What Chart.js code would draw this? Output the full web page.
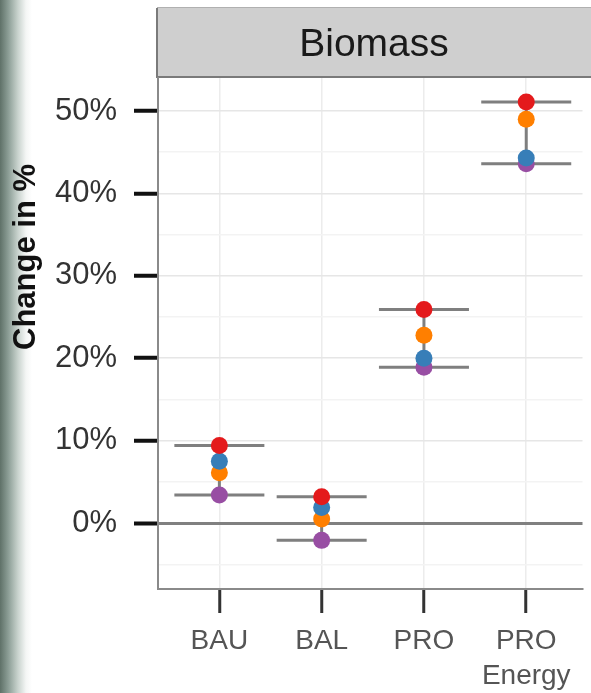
<!DOCTYPE html>
<html>
<head>
<meta charset="utf-8">
<script src="https://cdn.jsdelivr.net/npm/chart.js@4"></script>
<style>
  html, body { margin: 0; padding: 0; }
  body {
    width: 591px;
    height: 693px;
    overflow: hidden;
    background: linear-gradient(to right, #5f7168 0px, #8a9c94 8px, #c9d3ce 18px, #f4f6f5 26px, #ffffff 32px);
  }
  canvas { display: block; }
</style>
</head>
<body>
<canvas id="chart" width="591" height="693"></canvas>
<script>
const categories = ["BAU", "BAL", "PRO", "PRO Energy"];
const redValues = [9.4, 3.2, 25.9, 51.1];
const blueValues = [7.5, 1.9, 20.0, 44.3];
const orangeValues = [6.1, 0.5, 22.8, 49.0];
const purpleValues = [3.4, -2.1, 18.9, 43.6];
const yTicks = [-5, 0, 5, 10, 15, 20, 25, 30, 35, 40, 45, 50];
const panelTitle = "Biomass";
const yTitle = "Change in %";

const series = [
  { label: "red", values: redValues, color: "#E41A1C" },
  { label: "blue", values: blueValues, color: "#377EB8" },
  { label: "orange", values: orangeValues, color: "#FF7F00" },
  { label: "purple", values: purpleValues, color: "#984EA3" },
];

// range bars: caps at highest and lowest value, joined by a vertical line
const capHalf = 0.44;
const rangePoints = [];
categories.forEach((cat, i) => {
  const vals = series.map((s) => s.values[i]);
  const hi = Math.max(...vals);
  const lo = Math.min(...vals);
  rangePoints.push({ x: i - capHalf, y: hi }, { x: i + capHalf, y: hi }, { x: i, y: null });
  rangePoints.push({ x: i - capHalf, y: lo }, { x: i + capHalf, y: lo }, { x: i, y: null });
  rangePoints.push({ x: i, y: lo }, { x: i, y: hi }, { x: i, y: null });
});

Chart.defaults.font.family = "'Liberation Sans', Arial, sans-serif";

const stripPlugin = {
  id: "strip",
  beforeDraw(chart) {
    const { ctx, chartArea, width } = chart;
    ctx.save();
    ctx.fillStyle = "#cfcfcf";
    ctx.fillRect(chartArea.left - 1, 8, width - chartArea.left + 1, 70);
    ctx.strokeStyle = "#b0b0b0";
    ctx.lineWidth = 1;
    ctx.beginPath();
    ctx.moveTo(chartArea.left - 1, 7.5);
    ctx.lineTo(width, 7.5);
    ctx.stroke();
    ctx.strokeStyle = "#7a7a7a";
    ctx.lineWidth = 2;
    ctx.beginPath();
    ctx.moveTo(chartArea.left - 1, 77);
    ctx.lineTo(width, 77);
    ctx.moveTo(chartArea.left - 1, 8);
    ctx.lineTo(chartArea.left - 1, 78);
    ctx.stroke();
    ctx.fillStyle = "#1a1a1a";
    ctx.font = "39px 'Liberation Sans', Arial, sans-serif";
    ctx.textAlign = "center";
    ctx.textBaseline = "middle";
    ctx.fillText(panelTitle, 374, 45);

    ctx.translate(26, 257);
    ctx.rotate(-Math.PI / 2);
    ctx.fillStyle = "#111111";
    ctx.font = "bold 31px 'Liberation Sans', Arial, sans-serif";
    ctx.fillText(yTitle, 0, 0);
    ctx.restore();
  },
};

const datasets = series.map((s) => ({
  type: "scatter",
  label: s.label,
  data: s.values.map((v, i) => ({ x: i, y: v })),
  backgroundColor: s.color,
  borderColor: s.color,
  borderWidth: 0,
  pointRadius: 8.5,
  pointHoverRadius: 8.5,
}));
datasets.push({
  type: "line",
  label: "range",
  data: rangePoints,
  borderColor: "#7f7f7f",
  borderWidth: 3,
  pointRadius: 0,
  spanGaps: false,
  fill: false,
});

new Chart(document.getElementById("chart"), {
  data: { datasets },
  plugins: [stripPlugin],
  options: {
    responsive: false,
    animation: false,
    events: [],
    layout: { padding: { top: 78, right: 2, left: 0, bottom: 0 } },
    plugins: { legend: { display: false }, tooltip: { enabled: false } },
    scales: {
      x: {
        type: "linear",
        min: -0.6,
        max: 3.55,
        afterFit: (scale) => { scale.height = 104; },
        afterBuildTicks: (scale) => {
          scale.ticks = categories.map((c, i) => ({ value: i }));
        },
        ticks: {
          autoSkip: false,
          maxRotation: 0,
          padding: 11,
          color: "#555555",
          font: { size: 28, lineHeight: 1.25 },
          callback: (v) => {
            const name = categories[v];
            return name && name.includes(" ") ? name.split(" ") : name;
          },
        },
        grid: {
          color: "#ececec",
          lineWidth: 1.5,
          tickLength: 24,
          tickWidth: 3,
          tickColor: "#333333",
        },
        border: { color: "#8a8a8a", width: 2 },
      },
      y: {
        type: "linear",
        min: -8,
        max: 54,
        afterFit: (scale) => { scale.width = 158; },
        afterBuildTicks: (scale) => {
          scale.ticks = yTicks.map((v) => ({ value: v }));
        },
        ticks: {
          padding: 17,
          color: "#333333",
          font: { size: 31 },
          callback: (v) => (v % 10 === 0 ? v + "%" : ""),
        },
        grid: {
          color: (ctx) => {
            if (!ctx.tick) return "#ececec";
            if (ctx.tick.value === 0) return "#808080";
            return ctx.tick.value % 10 === 0 ? "#e6e6e6" : "#f3f3f3";
          },
          lineWidth: (ctx) => (ctx.tick && ctx.tick.value === 0 ? 3 : 1.5),
          tickLength: 24,
          tickWidth: 4,
          tickColor: (ctx) =>
            ctx.tick && ctx.tick.value % 10 === 0 ? "#111111" : "rgba(0,0,0,0)",
        },
        border: { color: "#8a8a8a", width: 2 },
      },
    },
  },
});
</script>
</body>
</html>
